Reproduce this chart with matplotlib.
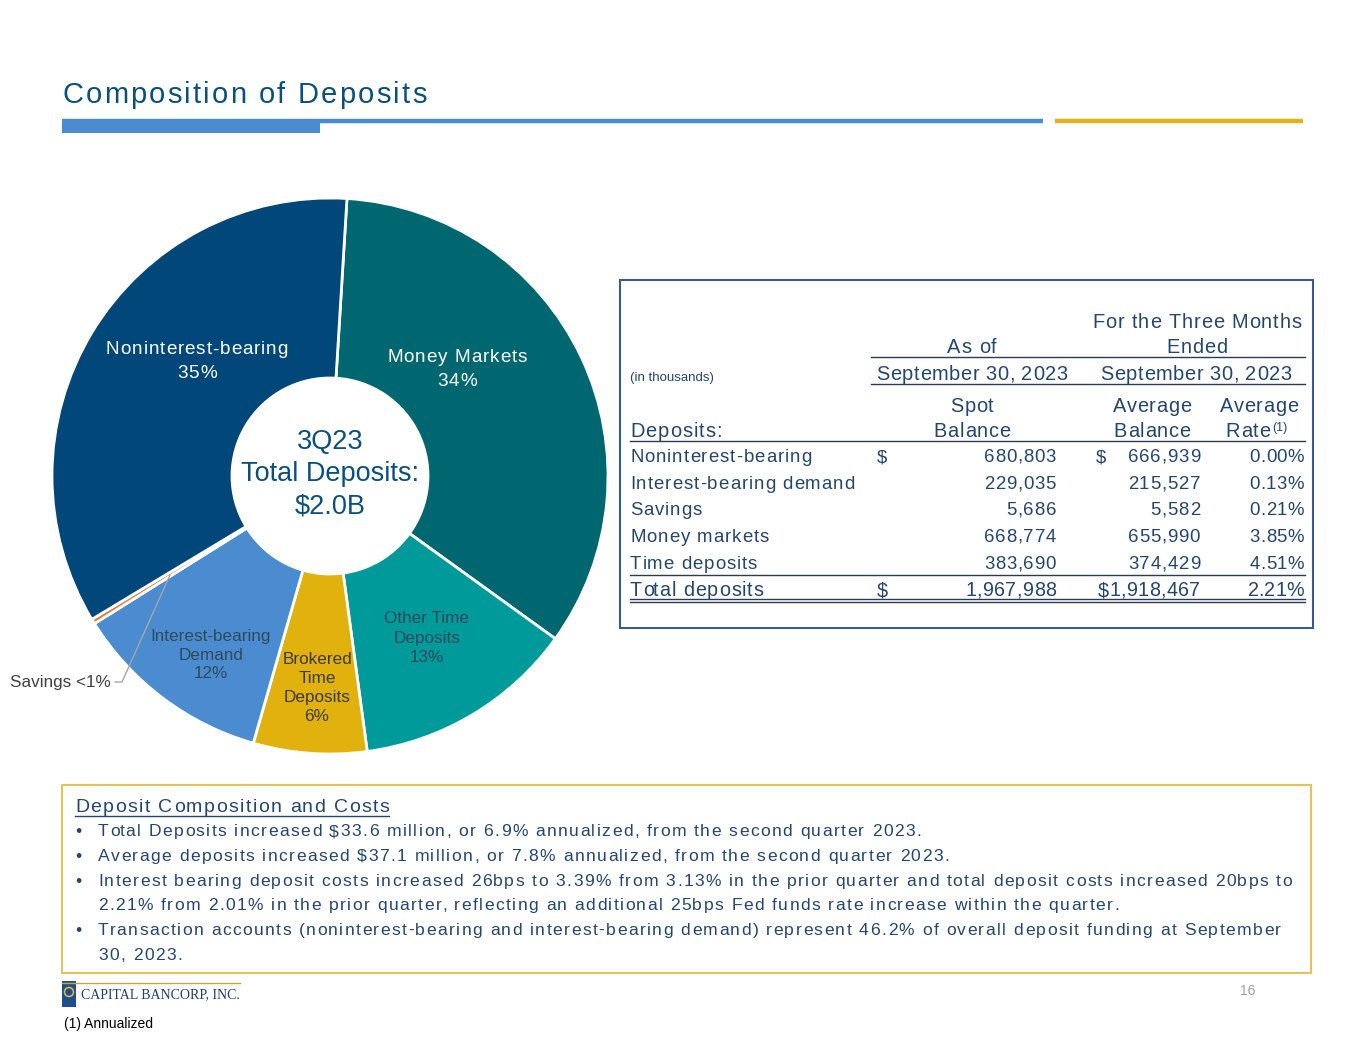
import matplotlib.pyplot as plt
from matplotlib.patches import Rectangle, Circle
from matplotlib.textpath import TextToPath
from matplotlib.font_manager import FontProperties

plt.rcParams['font.family'] = ['Liberation Sans', 'DejaVu Sans']

W, H = 1365, 1055  # 픽셀 단위 캔버스

# 도넛 차트 데이터 (천 달러)
segments = ['Money Markets', 'Other Time Deposits', 'Brokered Time Deposits',
            'Interest-bearing Demand', 'Savings', 'Noninterest-bearing']
seg_values = [668774, 254000, 129690, 229035, 5686, 680803]
seg_colors = ['#006670', '#009A9A', '#E1B20D', '#4A8CCF', '#E07B39', '#02477A']

# 표 데이터
row_names = ['Noninterest-bearing', 'Interest-bearing demand', 'Savings',
             'Money markets', 'Time deposits']
spot_bal = [680803, 229035, 5686, 668774, 383690]
avg_bal = [666939, 215527, 5582, 655990, 374429]
avg_rate = [0.00, 0.13, 0.21, 3.85, 4.51]
total_spot = 1967988
total_avg = 1918467
total_rate = 2.21

bullets = [
    ['Total Deposits increased $33.6 million, or 6.9% annualized, from the second quarter 2023.'],
    ['Average deposits increased $37.1 million, or 7.8% annualized, from the second quarter 2023.'],
    ['Interest bearing deposit costs increased 26bps to 3.39% from 3.13% in the prior quarter and total deposit costs increased 20bps to',
     '2.21% from 2.01% in the prior quarter, reflecting an additional 25bps Fed funds rate increase within the quarter.'],
    ['Transaction accounts (noninterest-bearing and interest-bearing demand) represent 46.2% of overall deposit funding at September',
     '30, 2023.'],
]

NAVY = '#0B4F7C'
TXT = '#24466E'

fig = plt.figure(figsize=(W / 100, H / 100), dpi=100)

# 도넛 차트
cx, cy, R = 330, 476, 278
ax_pie = fig.add_axes([(cx - 1.25 * R) / W, (H - cy - 1.25 * R) / H, 2.5 * R / W, 2.5 * R / H])
ax_pie.pie(seg_values, colors=seg_colors, startangle=86.5, counterclock=False,
           wedgeprops=dict(width=180 / 278, edgecolor='white', linewidth=2))
ax_pie.set_xlim(-1.25, 1.25)
ax_pie.set_ylim(-1.25, 1.25)
ax_pie.axis('off')

# 오버레이 (픽셀 좌표, y는 아래로)
ax = fig.add_axes([0, 0, 1, 1])
ax.set_xlim(0, W)
ax.set_ylim(H, 0)
ax.axis('off')

t2p = TextToPath()


# 자간(letter spacing)이 있는 텍스트: 글자 단위로 그림, y는 baseline
def spaced(x, y, s, sp, fs, color=TXT, ha='left'):
    prop = FontProperties(family='Liberation Sans', size=fs)

    def w(t):
        return t2p.get_text_width_height_descent(t, prop, ismath=False)[0] * 100 / 72

    base = w('||')
    offs = [w('|' + s[:i] + '|') - base + i * sp for i in range(len(s))]
    total = w('|' + s + '|') - base + (len(s) - 1) * sp
    if ha == 'center':
        x -= total / 2
    elif ha == 'right':
        x -= total
    for ch, o in zip(s, offs):
        if ch != ' ':
            ax.text(x + o, y, ch, fontsize=fs, color=color, ha='left', va='baseline', parse_math=False)
    return x, total


# 제목 및 구분선
spaced(62, 103, 'Composition of Deposits', 2.2, 21, color=NAVY)
ax.plot([62, 1043], [121, 121], color='#4A8CCF', lw=3.2, solid_capstyle='butt')
ax.add_patch(Rectangle((62, 121), 258, 12, color='#4A8CCF', lw=0))
ax.plot([1055, 1303], [121, 121], color='#E1B21C', lw=3.2, solid_capstyle='butt')

# 도넛 라벨
for s, x, ys in [('Noninterest-bearing', 197, 354.5), ('35%', 197, 377.5),
                 ('Money Markets', 457, 361.5), ('34%', 457, 385.5)]:
    spaced(x, ys, s, 0.9, 13.6, color='white', ha='center')
ax.text(427, 638, 'Other Time\nDeposits\n13%', fontsize=12.3, color='#2F4A5C', ha='center', va='center', linespacing=1.4)
ax.text(211, 655, 'Interest-bearing\nDemand\n12%', fontsize=12.3, color='#2F4A5C', ha='center', va='center', linespacing=1.33)
ax.text(317, 688, 'Brokered\nTime\nDeposits\n6%', fontsize=12.3, color='#3A3A3A', ha='center', va='center', linespacing=1.33)
ax.text(111, 682, 'Savings <1%', fontsize=12.3, color='#404040', ha='right', va='center')
ax.plot([115, 122, 170], [682, 682, 575], color='#A6A6A6', lw=1)
ax.text(cx, 474, '3Q23\nTotal Deposits:\n$2.0B', fontsize=19.5, color=NAVY, ha='center', va='center', linespacing=1.3)

# 표
ax.add_patch(Rectangle((620, 280), 693, 348, fill=False, edgecolor='#3A5A8A', lw=1.5))
lc = '#2B3B55'
hf, rf, tf = 14.4, 13.4, 14.2
spaced(1197, 328, 'For the Three Months', 0.9, hf, ha='center')
spaced(1197, 353, 'Ended', 0.9, hf, ha='center')
spaced(972, 353, 'As of', 0.9, hf, ha='center')
ax.plot([871, 1305], [357, 357], color=lc, lw=1)
ax.text(630, 381, '(in thousands)', fontsize=9.5, color=TXT, ha='left', va='baseline')
spaced(972, 380, 'September 30, 2023', 0.6, hf, ha='center')
spaced(1196, 380, 'September 30, 2023', 0.6, hf, ha='center')
ax.plot([871, 1305], [384, 384], color=lc, lw=1)
spaced(972, 412, 'Spot', 0.8, hf, ha='center')
spaced(972, 437, 'Balance', 0.8, hf, ha='center')
spaced(1152, 412, 'Average', 0.7, hf, ha='center')
spaced(1152, 437, 'Balance', 0.7, hf, ha='center')
spaced(1259, 412, 'Average', 0.7, hf, ha='center')
spaced(1270, 437, 'Rate', 0.7, hf, ha='right')
ax.text(1272, 431, '(1)', fontsize=9, color=TXT, ha='left', va='baseline')
spaced(630, 437, 'Deposits:', 1.1, hf)
ax.plot([630, 1305], [441, 441], color=lc, lw=1)

row_y = [462, 489, 515, 542, 569]
for i, name in enumerate(row_names):
    y = row_y[i]
    spaced(630, y, name, 1.0, rf)
    spaced(1056, y, f'{spot_bal[i]:,}', 0.8, rf, ha='right')
    spaced(1200, y, f'{avg_bal[i]:,}', 0.8, rf, ha='right')
    spaced(1304, y, f'{avg_rate[i]:.2f}%', 0.5, rf, ha='right')
    if i == 0:
        spaced(877, y, '$', 0, rf)
        spaced(1096, y, '$', 0, rf)
ax.plot([630, 1305], [575, 575], color=lc, lw=1)
spaced(630, 596, 'Total deposits', 1.0, tf)
spaced(877, 596, '$', 0, tf)
spaced(1056, 596, f'{total_spot:,}', 0.4, tf, ha='right')
spaced(1200, 596, f'${total_avg:,}', 0.4, tf, ha='right')
spaced(1304, 596, f'{total_rate:.2f}%', 0.1, tf, ha='right')
ax.plot([630, 1305], [599, 599], color=lc, lw=1)
ax.plot([630, 1305], [602, 602], color=lc, lw=1)

# 하단 박스
ax.add_patch(Rectangle((62, 785), 1249, 188, fill=False, edgecolor='#E3C35A', lw=1.5))
hx, hw = spaced(75, 812, 'Deposit Composition and Costs', 1.5, 14)
ax.plot([75, hx + hw], [816, 816], color=TXT, lw=1)
y = 836
for b in bullets:
    ax.text(75, y, '•', fontsize=12.6, color=TXT, ha='left', va='baseline')
    for line in b:
        spaced(98, y, line, 1.43, 12.6)
        y += 24.8

# 로고 / 각주
ax.plot([62, 240], [983, 983], color='#C9A53A', lw=1)
ax.add_patch(Rectangle((62, 981), 14, 26, color='#1F4E8C', lw=0))
ax.add_patch(Circle((69, 992), 4.5, fill=False, edgecolor='#D9B440', lw=1.2))
ax.text(81, 995, 'CAPITAL BANCORP, INC.', fontsize=10, color='#1F3F6F', family='Liberation Serif',
        ha='left', va='center')
ax.text(1248, 991, '16', fontsize=10, color='#A0A0A0', ha='center', va='center')
ax.text(64, 1024, '(1) Annualized', fontsize=10, color='black', ha='left', va='center')

plt.savefig('out.png', dpi=100)
